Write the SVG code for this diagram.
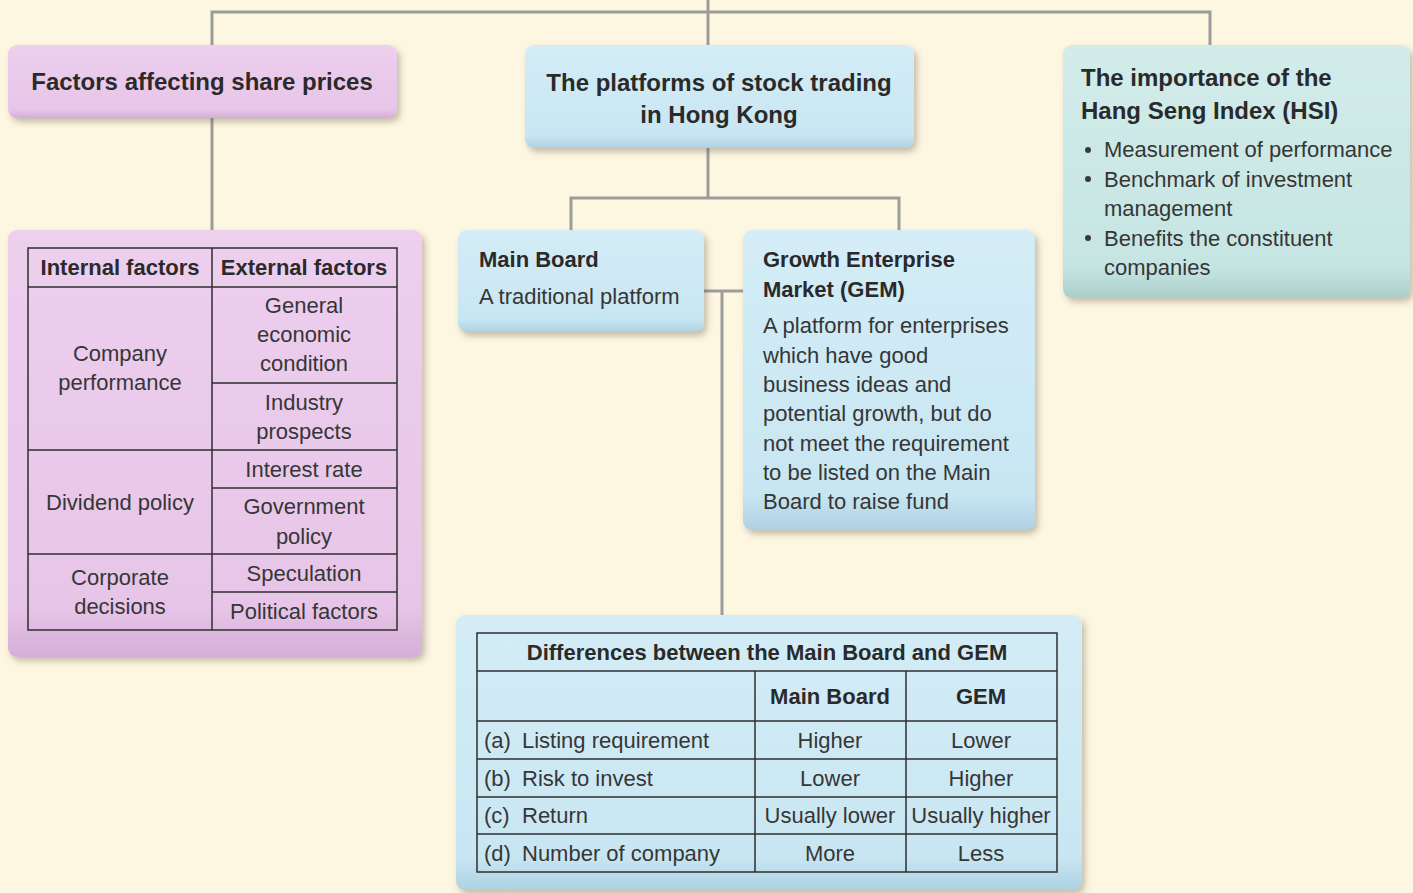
<svg xmlns="http://www.w3.org/2000/svg" width="1413" height="893" viewBox="0 0 1413 893">
  <style>
    .bg { fill: #fdf6e1; }
    .link { stroke: #9c9c9c; stroke-width: 3; fill: none; }
    .pink { fill: url(#gPink); }
    .blue { fill: url(#gBlue); }
    .teal { fill: url(#gTeal); }
    .box { filter: url(#shadow); }
    .grid { stroke: #2f2f2f; stroke-width: 1.5; fill: none; }
    .h { font-family: "Liberation Sans", Arial, sans-serif; font-weight: bold; font-size: 24px; fill: #2a2a2a; }
    .hs { font-family: "Liberation Sans", Arial, sans-serif; font-weight: bold; font-size: 22px; fill: #2a2a2a; }
    .t { font-family: "Liberation Sans", Arial, sans-serif; font-size: 22px; fill: #363636; }
    .c { text-anchor: middle; }
  </style>
  <defs>
    <linearGradient id="gPink" x1="0" y1="0" x2="0" y2="1">
      <stop offset="0" stop-color="#edcfee"/>
      <stop offset="0.88" stop-color="#e7c5e8"/>
      <stop offset="1" stop-color="#d4aed6"/>
    </linearGradient>
    <linearGradient id="gBlue" x1="0" y1="0" x2="0" y2="1">
      <stop offset="0" stop-color="#d4edf7"/>
      <stop offset="0.88" stop-color="#c8e6f2"/>
      <stop offset="1" stop-color="#aed1e2"/>
    </linearGradient>
    <linearGradient id="gTeal" x1="0" y1="0" x2="0" y2="1">
      <stop offset="0" stop-color="#d2ecea"/>
      <stop offset="0.88" stop-color="#c6e5e2"/>
      <stop offset="1" stop-color="#a9cfcb"/>
    </linearGradient>
    <filter id="shadow" x="-5%" y="-5%" width="115%" height="120%">
      <feDropShadow dx="3" dy="4" stdDeviation="3" flood-color="#5a5040" flood-opacity="0.35"/>
    </filter>
  </defs>

  <rect class="bg" x="0" y="0" width="1413" height="893"/>

  <!-- connectors -->
  <g id="connectors">
    <path class="link" d="M708 0 V45"/>
    <path class="link" d="M212 45 V12 H1210 V45"/>
    <path class="link" d="M212 118 V230"/>
    <path class="link" d="M708 148 V198"/>
    <path class="link" d="M571 230 V198 H899 V230"/>
    <path class="link" d="M704 291 H743"/>
    <path class="link" d="M722 291 V615"/>
  </g>

  <!-- Factors affecting share prices -->
  <g id="factors-title">
    <rect class="box pink" x="8" y="45" width="389" height="73" rx="9"/>
    <text class="h c" x="202" y="90">Factors affecting share prices</text>
  </g>

  <!-- Internal / external factors table -->
  <g id="factors-table">
    <rect class="box pink" x="8" y="230" width="414" height="427" rx="9"/>
    <rect class="grid" x="28" y="248" width="369" height="382"/>
    <path class="grid" d="M212 248 V630 M28 287 H397 M212 383 H397 M28 450 H397 M212 488 H397 M28 554 H397 M212 592 H397"/>
    <text class="hs c" x="120" y="275">Internal factors</text>
    <text class="hs c" x="304" y="275">External factors</text>
    <text class="t c" x="120" y="361">Company</text>
    <text class="t c" x="120" y="390">performance</text>
    <text class="t c" x="120" y="510">Dividend policy</text>
    <text class="t c" x="120" y="585">Corporate</text>
    <text class="t c" x="120" y="614">decisions</text>
    <text class="t c" x="304" y="313">General</text>
    <text class="t c" x="304" y="342">economic</text>
    <text class="t c" x="304" y="371">condition</text>
    <text class="t c" x="304" y="410">Industry</text>
    <text class="t c" x="304" y="439">prospects</text>
    <text class="t c" x="304" y="477">Interest rate</text>
    <text class="t c" x="304" y="514">Government</text>
    <text class="t c" x="304" y="544">policy</text>
    <text class="t c" x="304" y="581">Speculation</text>
    <text class="t c" x="304" y="619">Political factors</text>
  </g>

  <!-- Platforms of stock trading -->
  <g id="platforms">
    <rect class="box blue" x="525" y="45" width="389" height="103" rx="9"/>
    <text class="h c" x="719" y="91">The platforms of stock trading</text>
    <text class="h c" x="719" y="123">in Hong Kong</text>
  </g>

  <!-- Main Board -->
  <g id="main-board">
    <rect class="box blue" x="458" y="230" width="246" height="102" rx="9"/>
    <text class="hs" x="479" y="267">Main Board</text>
    <text class="t" x="479" y="304">A traditional platform</text>
  </g>

  <!-- GEM -->
  <g id="gem">
    <rect class="box blue" x="743" y="230" width="292" height="300" rx="9"/>
    <text class="hs" x="763" y="267">Growth Enterprise</text>
    <text class="hs" x="763" y="297">Market (GEM)</text>
    <text class="t" x="763" y="333">A platform for enterprises</text>
    <text class="t" x="763" y="363">which have good</text>
    <text class="t" x="763" y="392">business ideas and</text>
    <text class="t" x="763" y="421">potential growth, but do</text>
    <text class="t" x="763" y="451">not meet the requirement</text>
    <text class="t" x="763" y="480">to be listed on the Main</text>
    <text class="t" x="763" y="509">Board to raise fund</text>
  </g>

  <!-- Hang Seng Index -->
  <g id="hsi">
    <rect class="box teal" x="1063" y="45" width="347" height="253" rx="9"/>
    <text class="h" x="1081" y="86">The importance of the</text>
    <text class="h" x="1081" y="119">Hang Seng Index (HSI)</text>
    <circle cx="1088" cy="150" r="3" fill="#3a3a3a"/>
    <circle cx="1088" cy="179" r="3" fill="#3a3a3a"/>
    <circle cx="1088" cy="238" r="3" fill="#3a3a3a"/>
    <text class="t" x="1104" y="157">Measurement of performance</text>
    <text class="t" x="1104" y="187">Benchmark of investment</text>
    <text class="t" x="1104" y="216">management</text>
    <text class="t" x="1104" y="246">Benefits the constituent</text>
    <text class="t" x="1104" y="275">companies</text>
  </g>

  <!-- Differences table -->
  <g id="differences">
    <rect class="box blue" x="456" y="615" width="626" height="275" rx="9"/>
    <rect class="grid" x="477" y="633" width="580" height="239"/>
    <path class="grid" d="M477 671 H1057 M477 721 H1057 M477 759 H1057 M477 797 H1057 M477 834 H1057 M755 671 V872 M906 671 V872"/>
    <text class="hs c" x="767" y="660">Differences between the Main Board and GEM</text>
    <text class="hs c" x="830" y="704">Main Board</text>
    <text class="hs c" x="981" y="704">GEM</text>
    <text class="t" x="484" y="748">(a)</text>
    <text class="t" x="522" y="748">Listing requirement</text>
    <text class="t" x="484" y="786">(b)</text>
    <text class="t" x="522" y="786">Risk to invest</text>
    <text class="t" x="484" y="823">(c)</text>
    <text class="t" x="522" y="823">Return</text>
    <text class="t" x="484" y="861">(d)</text>
    <text class="t" x="522" y="861">Number of company</text>
    <text class="t c" x="830" y="748">Higher</text>
    <text class="t c" x="981" y="748">Lower</text>
    <text class="t c" x="830" y="786">Lower</text>
    <text class="t c" x="981" y="786">Higher</text>
    <text class="t c" x="830" y="823">Usually lower</text>
    <text class="t c" x="981" y="823">Usually higher</text>
    <text class="t c" x="830" y="861">More</text>
    <text class="t c" x="981" y="861">Less</text>
  </g>
</svg>
